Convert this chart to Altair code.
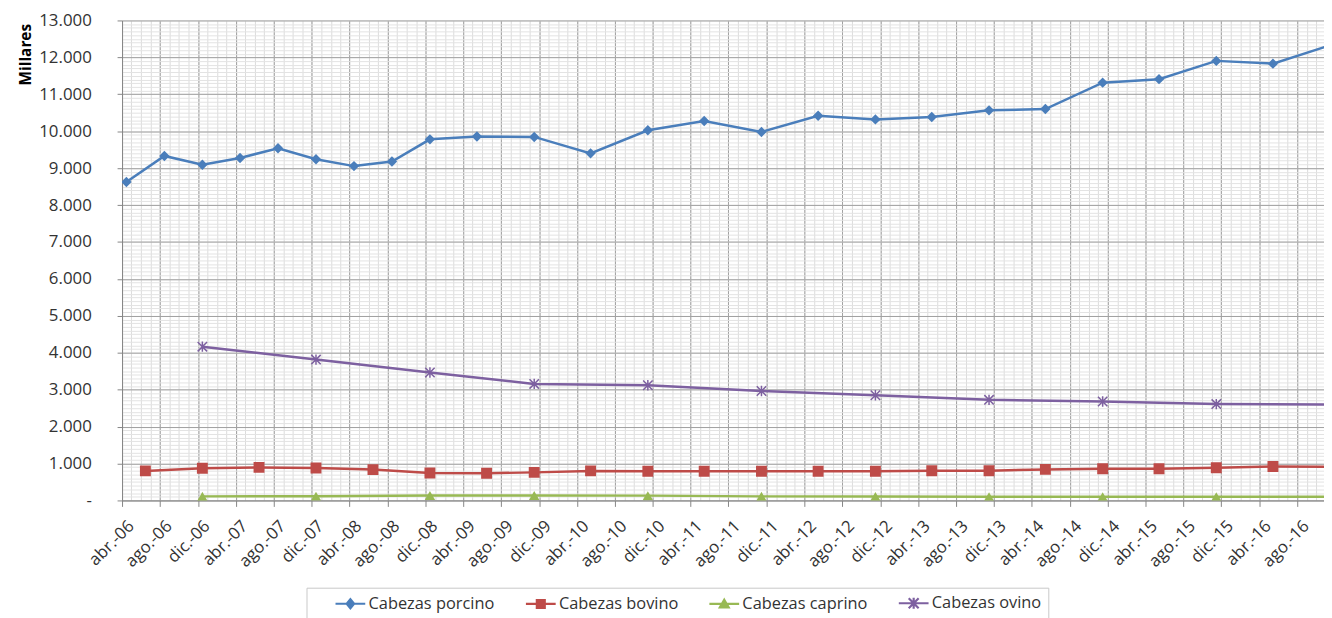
import altair as alt
import pandas as pd

FONT = "Open Sans"
TEXT_COLOR = "#333333"

SERIES = ["Cabezas porcino", "Cabezas bovino", "Cabezas caprino", "Cabezas ovino"]
COLORS = ["#4A7EBB", "#BE4B48", "#98B954", "#7D60A0"]

PORCINO_FECHAS = [
    "2006-04-15", "2006-08-15", "2006-12-15", "2007-04-15", "2007-08-15",
    "2007-12-15", "2008-04-15", "2008-08-15", "2008-12-15", "2009-05-15",
    "2009-11-15", "2010-05-15", "2010-11-15", "2011-05-15", "2011-11-15",
    "2012-05-15", "2012-11-15", "2013-05-15", "2013-11-15", "2014-05-15",
    "2014-11-15", "2015-05-15", "2015-11-15", "2016-05-15", "2016-11-15",
]
PORCINO_VALORES = [
    8625, 9330, 9090, 9275, 9540, 9240, 9055, 9180, 9780, 9855,
    9845, 9400, 10025, 10275, 9980, 10420, 10320, 10385, 10565, 10600,
    11315, 11410, 11905, 11830, 12330,
]

BOVINO_FECHAS = [
    "2006-06-15", "2006-12-15", "2007-06-15", "2007-12-15", "2008-06-15",
    "2008-12-15", "2009-06-15", "2009-11-15", "2010-05-15", "2010-11-15",
    "2011-05-15", "2011-11-15", "2012-05-15", "2012-11-15", "2013-05-15",
    "2013-11-15", "2014-05-15", "2014-11-15", "2015-05-15", "2015-11-15",
    "2016-05-15", "2016-11-15",
]
BOVINO_VALORES = [
    800, 870, 895, 880, 835, 745, 735, 760, 800, 790,
    790, 790, 790, 790, 805, 805, 840, 860, 860, 885,
    920, 910,
]

ANUAL_FECHAS = [
    "2006-12-15", "2007-12-15", "2008-12-15", "2009-11-15", "2010-11-15",
    "2011-11-15", "2012-11-15", "2013-11-15", "2014-11-15", "2015-11-15",
    "2016-11-15",
]
CAPRINO_VALORES = [110, 115, 135, 135, 130, 110, 105, 100, 100, 100, 100]
OVINO_VALORES = [4165, 3815, 3465, 3155, 3120, 2965, 2850, 2725, 2680, 2610, 2595]

MESES = ["ene.", "feb.", "mar.", "abr.", "may.", "jun.",
         "jul.", "ago.", "sep.", "oct.", "nov.", "dic."]

X_START = "2006-04-01"
X_END = "2016-10-26"
X_LAST_LABEL = "2016-08-01"
Y_MAX = 13000

ASTERISK = "M-1,-1L1,1M-1,1L1,-1M0,-1.1L0,1.1"
POINT_STYLE = {
    "Cabezas porcino": dict(shape="diamond", size=110, filled=True),
    "Cabezas bovino": dict(shape="square", size=121, filled=True),
    "Cabezas caprino": dict(shape="triangle-up", size=110, filled=True),
    "Cabezas ovino": dict(shape=ASTERISK, size=90, filled=False, strokeWidth=1.5),
}
LEGEND_PATHS = [
    "M-3,0L3,0M0,-0.9L0.75,0L0,0.9L-0.75,0Z",
    "M-3,0L3,0M-0.8,-0.8L0.8,-0.8L0.8,0.8L-0.8,0.8Z",
    "M-3,0L3,0M0,-0.85L0.9,0.7L-0.9,0.7Z",
    "M-3,0L3,0M-1,-1L1,1M-1,1L1,-1M0,-1.1L0,1.1",
]

rows = []
for f, v in zip(PORCINO_FECHAS, PORCINO_VALORES):
    rows.append({"serie": SERIES[0], "fecha": f, "valor": v})
for f, v in zip(BOVINO_FECHAS, BOVINO_VALORES):
    rows.append({"serie": SERIES[1], "fecha": f, "valor": v})
for f, v in zip(ANUAL_FECHAS, CAPRINO_VALORES):
    rows.append({"serie": SERIES[2], "fecha": f, "valor": v})
for f, v in zip(ANUAL_FECHAS, OVINO_VALORES):
    rows.append({"serie": SERIES[3], "fecha": f, "valor": v})
df = pd.DataFrame(rows)


def ms(s):
    return int(pd.Timestamp(s).value // 10**6)


major_x = [ms(t) for t in pd.date_range(X_START, X_LAST_LABEL, freq="4MS")]
minor_x = [ms(t) for t in pd.date_range(X_START, X_END, freq="MS")]
major_y = list(range(0, Y_MAX + 1, 1000))
minor_y = list(range(0, Y_MAX + 1, 100))

xscale = alt.Scale(type="utc", domain=[ms(X_START), ms(X_END)], nice=False)
yscale = alt.Scale(domain=[0, Y_MAX], nice=False, zero=True)

meses_js = "[" + ",".join("'%s'" % m for m in MESES) + "]"

minor_x_axis = alt.Axis(values=minor_x, orient="bottom", grid=True, gridColor="#dcdcdc",
                        gridWidth=1, labels=False, ticks=False, domain=False, title=None)
minor_y_axis = alt.Axis(values=minor_y, orient="left", grid=True, gridColor="#e3e3e3",
                        gridWidth=1, labels=False, ticks=False, domain=False, title=None)

major_x_axis = alt.Axis(
    values=major_x, orient="bottom", grid=True, gridColor="#a0a0a0", gridWidth=1,
    domain=True, domainColor="#868686", domainWidth=1,
    ticks=True, tickColor="#868686", tickSize=6, tickWidth=1,
    labelExpr=meses_js + "[utcmonth(datum.value)] + '-' + utcFormat(datum.value, '%y')",
    labelAngle=-45, labelAlign="right", labelBaseline="middle",
    labelFont=FONT, labelFontSize=17, labelColor=TEXT_COLOR,
    labelOffset=9, labelPadding=17, labelOverlap=False, labelFlush=False,
    labelBound=False, title=None,
)
major_y_axis = alt.Axis(
    values=major_y, orient="left", grid=True, gridColor="#a0a0a0", gridWidth=1,
    domain=True, domainColor="#868686", domainWidth=1,
    ticks=True, tickColor="#868686", tickSize=5, tickWidth=1,
    labelExpr="datum.value == 0 ? '-\u00a0\u00a0\u00a0' : replace(format(datum.value, ',.0f'), ',', '.')",
    labelFont=FONT, labelFontSize=17, labelColor=TEXT_COLOR,
    labelPadding=26, labelOverlap=False, labelFlush=False,
    title="Millares", titleFont=FONT, titleFontSize=15.5, titleFontWeight="bold",
    titleColor="#000000", titleAngle=270, titleAlign="right", titleBaseline="middle",
    titleX=-97, titleY=3,
)

base = alt.Chart(df)
layers = []
for i, (name, color) in enumerate(zip(SERIES, COLORS)):
    sub = base.transform_filter(alt.datum.serie == name)
    layers.append(
        sub.mark_line(color=color, strokeWidth=2.5, clip=True).encode(
            x=alt.X("fecha:T", scale=xscale, axis=minor_x_axis if i == 0 else None),
            y=alt.Y("valor:Q", scale=yscale, axis=minor_y_axis if i == 0 else None),
        )
    )
for name, color in zip(SERIES, COLORS):
    st = POINT_STYLE[name]
    sub = base.transform_filter(alt.datum.serie == name)
    layers.append(
        sub.mark_point(color=color, opacity=1, clip=True, **st).encode(
            x=alt.X("fecha:T", scale=xscale, axis=None),
            y=alt.Y("valor:Q", scale=yscale, axis=None),
        )
    )

legend = alt.Legend(
    title=" ", titleOrient="left", titlePadding=29, titleFontSize=16,
    orient="none", legendX=186, legendY=572, direction="horizontal",
    padding=7, strokeColor="#c8c8c8", fillColor="white",
    symbolSize=100, symbolStrokeWidth=2.2, symbolOpacity=1,
    labelFont=FONT, labelFontSize=16.5, labelColor=TEXT_COLOR,
    labelOffset=10, columnPadding=26, labelLimit=300,
    labelExpr="datum.label == 'Cabezas ovino' ? datum.label + '\u00a0\u00a0\u00a0\u00a0\u00a0\u00a0\u00a0\u00a0\u00a0\u00a0' : datum.label",
)
legend_layer = base.mark_point(filled=True, opacity=0, size=100, clip=True).encode(
    x=alt.X("fecha:T", scale=xscale, axis=major_x_axis),
    y=alt.Y("valor:Q", scale=yscale, axis=major_y_axis),
    fill=alt.Fill("serie:N", scale=alt.Scale(domain=SERIES, range=COLORS), legend=legend),
    stroke=alt.Stroke("serie:N", scale=alt.Scale(domain=SERIES, range=COLORS), legend=legend),
    shape=alt.Shape("serie:N", scale=alt.Scale(domain=SERIES, range=LEGEND_PATHS), legend=legend),
)
layers.append(legend_layer)

chart = (
    alt.layer(*layers)
    .resolve_axis(x="independent", y="independent")
    .properties(
        width=1212, height=484,
        autosize=alt.AutoSizeParams(type="none"),
        padding={"left": 115, "top": 10, "right": 0, "bottom": 116},
        background="white",
    )
    .configure_view(stroke=None)
)

chart.save("out.html", embed_options={"renderer": "svg", "actions": False})
